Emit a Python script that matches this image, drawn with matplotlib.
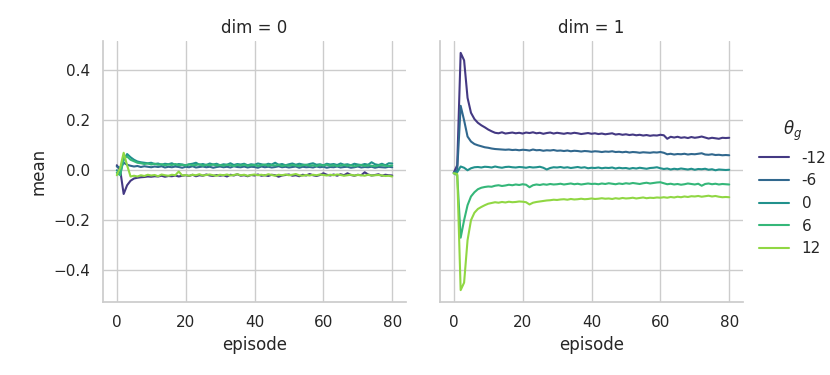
import numpy as np
import matplotlib
matplotlib.use("Agg")
import matplotlib.pyplot as plt
import seaborn as sns

episodes = list(range(81))
thetas = ["-12", "-6", "0", "6", "12"]
dims = [0, 1]

d0_m12 = [0.02, 0.00, -0.095, -0.06, -0.042, -0.033, -0.03, -0.028, -0.027, -0.025,
          -0.026, -0.024, -0.025, -0.022, -0.026, -0.023, -0.024, -0.021, -0.025, -0.022,
          -0.02, -0.023, -0.018, -0.024, -0.02, -0.022, -0.017, -0.021, -0.023, -0.019,
          -0.022, -0.02, -0.025, -0.018, -0.021, -0.016, -0.022, -0.02, -0.024, -0.019,
          -0.021, -0.017, -0.022, -0.02, -0.023, -0.018, -0.02, -0.026, -0.021, -0.019,
          -0.017, -0.022, -0.02, -0.024, -0.018, -0.021, -0.015, -0.02, -0.023, -0.019,
          -0.012, -0.018, -0.021, -0.017, -0.022, -0.016, -0.02, -0.012, -0.019, -0.022,
          -0.018, -0.02, -0.008, -0.017, -0.021, -0.019, -0.016, -0.022, -0.018, -0.02, -0.021]
d0_m6 = [0.015, 0.01, 0.03, 0.022, 0.018, 0.015, 0.017, 0.013, 0.016, 0.014,
         0.012, 0.015, 0.013, 0.016, 0.011, 0.014, 0.012, 0.015, 0.013, 0.01,
         0.014, 0.012, 0.016, 0.011, 0.013, 0.015, 0.012, 0.014, 0.01, 0.013,
         0.015, 0.012, 0.014, 0.011, 0.016, 0.013, 0.012, 0.015, 0.011, 0.014,
         0.013, 0.01, 0.015, 0.012, 0.014, 0.011, 0.013, 0.016, 0.012, 0.014,
         0.011, 0.013, 0.015, 0.01, 0.014, 0.012, 0.013, 0.011, 0.015, 0.012,
         0.014, 0.01, 0.013, 0.012, 0.015, 0.011, 0.013, 0.014, 0.01, 0.012,
         0.015, 0.011, 0.013, 0.012, 0.014, 0.01, 0.013, 0.012, 0.011, 0.014, 0.012]
d0_0 = [0.0, -0.012, 0.04, 0.065, 0.052, 0.042, 0.035, 0.032, 0.03, 0.028,
        0.03, 0.025, 0.027, 0.022, 0.026, 0.024, 0.028, 0.021, 0.025, 0.023,
        0.02, 0.024, 0.026, 0.03, 0.022, 0.025, 0.021, 0.027, 0.023, 0.026,
        0.02, 0.024, 0.022, 0.028, 0.021, 0.025, 0.023, 0.026, 0.02, 0.024,
        0.022, 0.027, 0.024, 0.021, 0.026, 0.023, 0.03, 0.022, 0.025, 0.02,
        0.024, 0.027, 0.022, 0.026, 0.023, 0.021, 0.025, 0.028, 0.022, 0.024,
        0.02, 0.026, 0.023, 0.025, 0.021, 0.027, 0.022, 0.024, 0.02, 0.026,
        0.023, 0.021, 0.025, 0.022, 0.032, 0.024, 0.021, 0.026, 0.02, 0.028, 0.027]
d0_6 = [-0.01, -0.02, 0.05, 0.055, 0.042, 0.036, 0.03, 0.028, 0.025, 0.027,
        0.023, 0.026, 0.022, 0.024, 0.02, 0.023, 0.021, 0.025, 0.02, 0.022,
        0.019, 0.023, 0.02, 0.021, 0.024, 0.018, 0.022, 0.02, 0.023, 0.019,
        0.021, 0.018, 0.022, 0.02, 0.017, 0.021, 0.019, 0.022, 0.018, 0.02,
        0.021, 0.017, 0.02, 0.023, 0.018, 0.021, 0.019, 0.022, 0.017, 0.02,
        0.018, 0.021, 0.019, 0.017, 0.02, 0.022, 0.018, 0.02, 0.017, 0.021,
        0.019, 0.022, 0.018, 0.02, 0.017, 0.019, 0.021, 0.018, 0.02, 0.016,
        0.019, 0.021, 0.017, 0.02, 0.018, 0.016, 0.019, 0.021, 0.018, 0.017, 0.019]
d0_12 = [-0.02, 0.01, 0.07, 0.02, -0.025, -0.022, -0.025, -0.02, -0.023, -0.018,
         -0.021, -0.019, -0.024, -0.017, -0.02, -0.022, -0.018, -0.02, -0.005, -0.021,
         -0.019, -0.022, -0.018, -0.02, -0.016, -0.021, -0.019, -0.017, -0.02, -0.022,
         -0.018, -0.02, -0.017, -0.021, -0.019, -0.016, -0.02, -0.018, -0.022, -0.019,
         -0.017, -0.02, -0.018, -0.021, -0.016, -0.019, -0.022, -0.018, -0.02, -0.017,
         -0.02, -0.018, -0.015, -0.02, -0.022, -0.019, -0.021, -0.018, -0.02, -0.017,
         -0.019, -0.021, -0.018, -0.02, -0.017, -0.019, -0.022, -0.02, -0.018, -0.021,
         -0.019, -0.02, -0.022, -0.018, -0.021, -0.02, -0.019, -0.021, -0.023, -0.022, -0.025]

d1_m12 = [-0.01, 0.02, 0.47, 0.44, 0.29, 0.23, 0.205, 0.19, 0.18, 0.172,
          0.163, 0.156, 0.15, 0.148, 0.152, 0.147, 0.149, 0.151, 0.148, 0.15,
          0.147, 0.151, 0.149, 0.152, 0.148, 0.15, 0.146, 0.149, 0.151, 0.147,
          0.15, 0.148, 0.146, 0.149, 0.147, 0.15, 0.148, 0.145, 0.147, 0.149,
          0.146, 0.148, 0.145, 0.147, 0.144, 0.146, 0.148, 0.143, 0.145, 0.142,
          0.144, 0.141, 0.143, 0.14, 0.142, 0.139, 0.141, 0.138, 0.14, 0.139,
          0.142, 0.14, 0.126, 0.134, 0.131, 0.134, 0.13, 0.132, 0.129, 0.133,
          0.13, 0.132, 0.135, 0.131, 0.127, 0.13, 0.128, 0.126, 0.13, 0.129, 0.13]
d1_m6 = [-0.01, 0.0, 0.258, 0.2, 0.135, 0.115, 0.105, 0.1, 0.096, 0.092,
         0.09, 0.087, 0.085, 0.084, 0.083, 0.082, 0.083, 0.081, 0.082, 0.08,
         0.082, 0.081, 0.079, 0.083, 0.08, 0.081, 0.078, 0.08, 0.079, 0.081,
         0.078, 0.079, 0.077, 0.079, 0.076, 0.078, 0.077, 0.075, 0.077, 0.076,
         0.074, 0.076, 0.075, 0.073, 0.075, 0.074, 0.076, 0.073, 0.074, 0.072,
         0.074, 0.071, 0.073, 0.072, 0.07, 0.072, 0.071, 0.07, 0.072, 0.071,
         0.073, 0.07, 0.064, 0.066, 0.063, 0.065, 0.064, 0.066, 0.063, 0.065,
         0.064, 0.066, 0.068, 0.063, 0.062, 0.064, 0.061, 0.062, 0.06, 0.061, 0.06]
d1_0 = [-0.012, -0.008, 0.015, 0.01, 0.0, 0.008, 0.012, 0.013, 0.011, 0.014,
        0.013, 0.011, 0.015, 0.012, 0.01, 0.013, 0.014, 0.012, 0.011, 0.013,
        0.012, 0.01, 0.013, 0.011, 0.012, 0.014, 0.01, 0.003, 0.009, 0.012,
        0.011, 0.013, 0.01, 0.012, 0.009, 0.011, 0.013, 0.01, 0.012, 0.008,
        0.01, 0.009, 0.011, 0.008, 0.01, 0.009, 0.011, 0.007, 0.01, 0.008,
        0.009, 0.006, 0.009, 0.007, 0.01, 0.008, 0.006, 0.009, 0.01, 0.012,
        0.008, 0.005, 0.007, 0.003, 0.006, 0.004, 0.007, 0.005, 0.003, 0.006,
        0.002, 0.005, 0.004, 0.006, 0.002, 0.004, 0.0, 0.003, 0.002, 0.001, 0.002]
d1_6 = [-0.012, -0.02, -0.27, -0.2, -0.14, -0.105, -0.088, -0.076, -0.07, -0.067,
        -0.065, -0.066, -0.062, -0.06, -0.063, -0.061, -0.058, -0.06, -0.057, -0.059,
        -0.056, -0.058, -0.068, -0.06, -0.057, -0.059, -0.056, -0.058, -0.055, -0.057,
        -0.056, -0.054, -0.057, -0.055, -0.053, -0.056, -0.054, -0.057, -0.055, -0.053,
        -0.055, -0.054, -0.056, -0.053, -0.055, -0.052, -0.054, -0.056, -0.053, -0.055,
        -0.052, -0.054, -0.051, -0.053, -0.055, -0.052, -0.05, -0.053, -0.051, -0.049,
        -0.048, -0.052, -0.056, -0.054, -0.057, -0.055, -0.058, -0.056, -0.053, -0.055,
        -0.057, -0.054, -0.062, -0.055, -0.053, -0.056, -0.054, -0.057, -0.055, -0.056, -0.057]
d1_12 = [-0.012, -0.015, -0.48, -0.45, -0.28, -0.2, -0.17, -0.155, -0.147, -0.14,
         -0.134, -0.131, -0.128, -0.13, -0.127, -0.129, -0.126, -0.128, -0.127, -0.125,
         -0.126, -0.128, -0.137, -0.13, -0.127, -0.125, -0.123, -0.121, -0.12, -0.118,
         -0.119, -0.117, -0.116, -0.118, -0.115, -0.117, -0.116, -0.114, -0.116, -0.115,
         -0.113, -0.115, -0.114, -0.112, -0.114, -0.113, -0.115, -0.112, -0.114, -0.111,
         -0.113, -0.112, -0.11, -0.113, -0.111, -0.109, -0.112, -0.11, -0.111, -0.109,
         -0.11, -0.108, -0.11, -0.107, -0.109, -0.106, -0.108, -0.105, -0.107, -0.104,
         -0.105, -0.103, -0.106, -0.104, -0.102, -0.105, -0.103, -0.106, -0.108, -0.107, -0.108]

series = {
    0: [d0_m12, d0_m6, d0_0, d0_6, d0_12],
    1: [d1_m12, d1_m6, d1_0, d1_6, d1_12],
}

sns.set_theme(style="whitegrid", context="notebook")
plt.rcParams['font.family'] = ['DejaVu Sans']
palette = sns.color_palette("viridis", len(thetas))

fig = plt.figure(figsize=(8.3, 3.75), dpi=100)
W, H = 830, 375
ax0 = fig.add_axes([103 / W, (H - 302) / H, 303 / W, 261 / H])
ax1 = fig.add_axes([440 / W, (H - 302) / H, 303 / W, 261 / H], sharey=ax0)
axes = [ax0, ax1]

handles = []
for ax, d in zip(axes, dims):
    for i, th in enumerate(thetas):
        ln, = ax.plot(episodes, series[d][i], color=palette[i], lw=1.5, label=th)
        if d == 0:
            handles.append(ln)
    ax.set_title(f"dim = {d}")
    ax.set_xlabel("episode")
    ax.set_xticks([0, 20, 40, 60, 80])
    sns.despine(ax=ax)

ax0.set_yticks([-0.4, -0.2, 0.0, 0.2, 0.4])
ax0.set_ylabel("mean")
ax1.tick_params(labelleft=False)

fig.legend(handles, thetas, title=r"$\theta_g$", frameon=False,
           loc="center left", bbox_to_anchor=(745 / W, 0.5))

fig.savefig("out.png", dpi=100)
